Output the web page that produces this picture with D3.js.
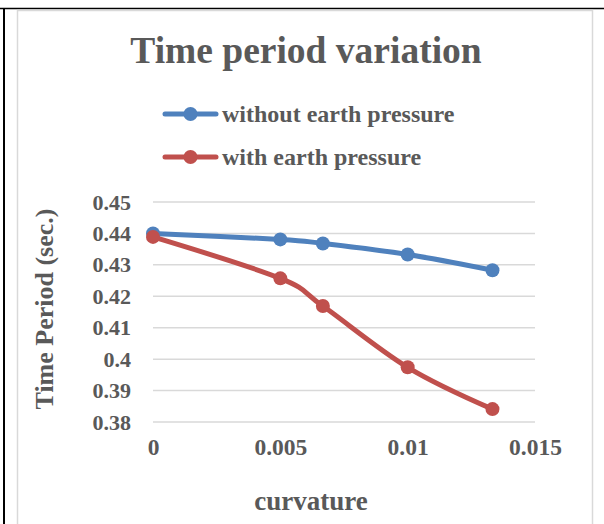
<!DOCTYPE html>
<html>
<head>
<meta charset="utf-8">
<script src="https://cdn.jsdelivr.net/npm/d3@7"></script>
<style>
  body { margin: 0; background: #fff; }
  text { font-family: "Liberation Serif", "Times New Roman", serif; font-weight: bold; fill: #595959; }
</style>
</head>
<body>
<div id="chart"></div>
<script>
var svgWidth = 604;
var svgHeight = 524;

// data
var curvature = [0, 0.005, 0.00667, 0.01, 0.01333];
var withoutEarth = [0.4400, 0.4381, 0.4368, 0.4333, 0.4283];
var withEarth = [0.4389, 0.4257, 0.4169, 0.3974, 0.3841];
var seriesNames = ["without earth pressure", "with earth pressure"];
var seriesColors = ["#4F81BD", "#C0504D"];
var xTicks = [0, 0.005, 0.01, 0.015];
var yTicks = [0.38, 0.39, 0.4, 0.41, 0.42, 0.43, 0.44, 0.45];

var margin = { top: 202, right: 69, bottom: 102, left: 153 };
var width = svgWidth - margin.left - margin.right;
var height = svgHeight - margin.top - margin.bottom;

var svg = d3.select("#chart")
  .append("svg")
  .attr("width", svgWidth)
  .attr("height", svgHeight);

// page borders
svg.append("line").attr("x1", 0).attr("x2", svgWidth).attr("y1", 8.5).attr("y2", 8.5)
  .attr("stroke", "#000").attr("stroke-width", 1.5);
svg.append("line").attr("x1", 4).attr("x2", 4).attr("y1", 8).attr("y2", svgHeight)
  .attr("stroke", "#000").attr("stroke-width", 2);

// chart area border
svg.append("rect")
  .attr("x", 17.5).attr("y", 10.5)
  .attr("width", 575).attr("height", 530)
  .attr("fill", "none")
  .attr("stroke", "#D9D9D9")
  .attr("stroke-width", 1.5);

var chartGroup = svg.append("g")
  .attr("transform", `translate(${margin.left}, ${margin.top})`);

var xLinearScale = d3.scaleLinear().domain([0, 0.015]).range([0, width]);
var yLinearScale = d3.scaleLinear().domain([0.38, 0.45]).range([height, 0]);

// gridlines
chartGroup.selectAll(".grid")
  .data(yTicks)
  .enter()
  .append("line")
  .attr("x1", 0)
  .attr("x2", width)
  .attr("y1", d => yLinearScale(d))
  .attr("y2", d => yLinearScale(d))
  .attr("stroke", "#D9D9D9")
  .attr("stroke-width", 1.5);

// axes (labels only)
var leftAxis = d3.axisLeft(yLinearScale).tickValues(yTicks).tickSize(0).tickPadding(22)
  .tickFormat(d => String(+d.toFixed(2)));
var yAxis = chartGroup.append("g").call(leftAxis);
yAxis.select(".domain").remove();
yAxis.selectAll("text").attr("font-size", 22).attr("fill", "#595959")
  .attr("font-family", "Liberation Serif");

var bottomAxis = d3.axisBottom(xLinearScale).tickValues(xTicks).tickSize(0).tickPadding(16)
  .tickFormat(d => String(+d.toFixed(3)));
var xAxis = chartGroup.append("g")
  .attr("transform", `translate(0, ${height})`)
  .call(bottomAxis);
xAxis.select(".domain").remove();
xAxis.selectAll("text").attr("font-size", 23.5).attr("fill", "#595959")
  .attr("font-family", "Liberation Serif");

// series
var series = [withoutEarth, withEarth];
var line = d3.line()
  .x((d, i) => xLinearScale(curvature[i]))
  .y(d => yLinearScale(d))
  .curve(d3.curveCatmullRom.alpha(0));

series.forEach(function (values, s) {
  chartGroup.append("path")
    .datum(values)
    .attr("d", line)
    .attr("fill", "none")
    .attr("stroke", seriesColors[s])
    .attr("stroke-width", 5)
    .attr("stroke-linecap", "round");

  chartGroup.selectAll(".pt" + s)
    .data(values)
    .enter()
    .append("circle")
    .attr("cx", (d, i) => xLinearScale(curvature[i]))
    .attr("cy", d => yLinearScale(d))
    .attr("r", 7)
    .attr("fill", seriesColors[s]);
});

// title
svg.append("text")
  .attr("x", 306)
  .attr("y", 63)
  .attr("text-anchor", "middle")
  .attr("font-size", 37.5)
  .text("Time period variation");

// legend
seriesNames.forEach(function (name, s) {
  var y = 114 + s * 43;
  svg.append("line")
    .attr("x1", 165).attr("x2", 216)
    .attr("y1", y).attr("y2", y)
    .attr("stroke", seriesColors[s])
    .attr("stroke-width", 5)
    .attr("stroke-linecap", "round");
  svg.append("circle")
    .attr("cx", 190.5).attr("cy", y).attr("r", 7)
    .attr("fill", seriesColors[s]);
  svg.append("text")
    .attr("x", 222)
    .attr("y", y + 8)
    .attr("font-size", 24)
    .text(name);
});

// axis titles
svg.append("text")
  .attr("transform", "translate(53, 309) rotate(-90)")
  .attr("text-anchor", "middle")
  .attr("font-size", 26)
  .text("Time Period (sec.)");

svg.append("text")
  .attr("x", 311)
  .attr("y", 510)
  .attr("text-anchor", "middle")
  .attr("font-size", 27)
  .text("curvature");
</script>
</body>
</html>
